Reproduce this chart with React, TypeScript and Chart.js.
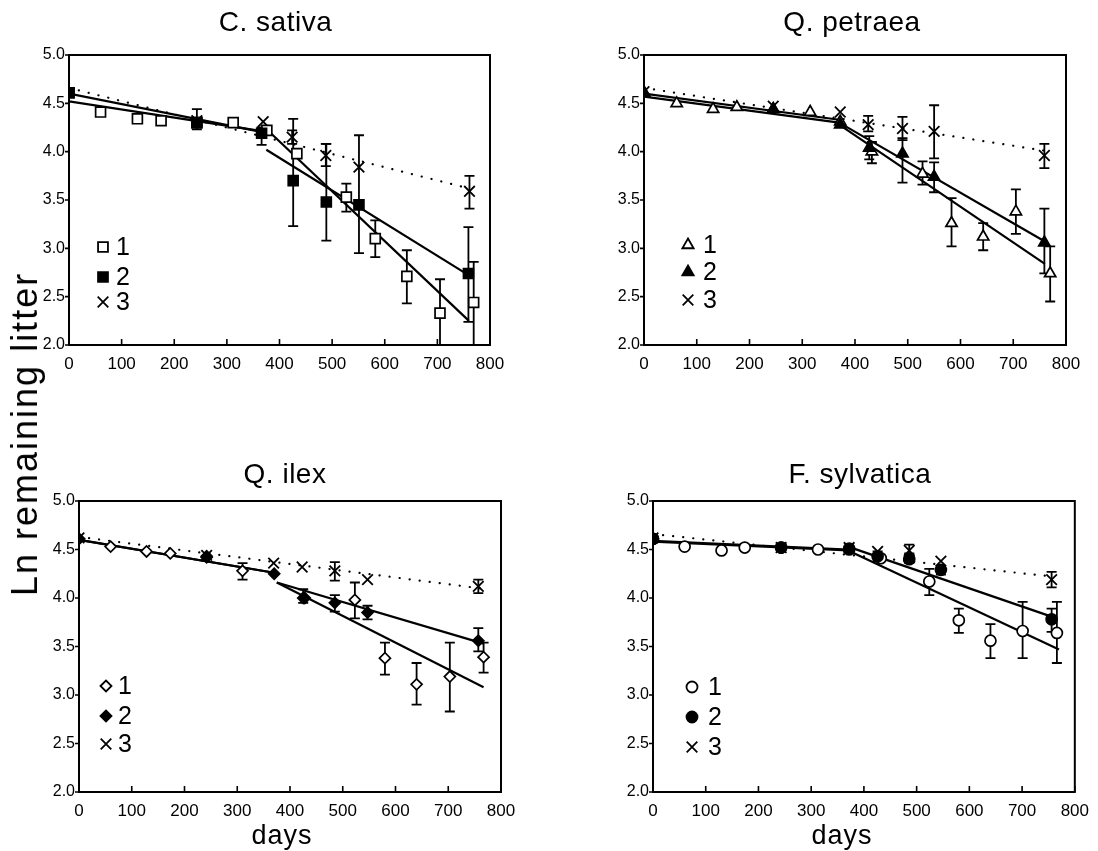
import React, { useEffect, useRef } from 'react';
import { Chart, registerables } from 'chart.js';
import { drawPoint } from 'chart.js/helpers';

Chart.register(...registerables);

const FONT = "'Liberation Sans', Arial, sans-serif";

// ---------- axis ticks ----------
const xTickStep = 100;
const yTickStep = 0.5;
const xRange = [0, 800];
const yRange = [2, 5];
const legendLabels = ['1', '2', '3'];

// ---------- C. sativa ----------
const sativaDays1 = [0, 60, 130, 175, 243, 312, 376, 433, 527, 582, 642, 705, 769];
const sativaVals1 = [4.61, 4.41, 4.34, 4.32, 4.30, 4.30, 4.22, 3.98, 3.53, 3.10, 2.71, 2.33, 2.44];
const sativaUp1 = [0, 0, 0, 0, 0, 0, 0, 0, 0.14, 0.19, 0.27, 0.35, 0.42];
const sativaDown1 = [0, 0, 0, 0, 0, 0, 0, 0, 0.15, 0.19, 0.28, 0.36, 0.5];
const sativaDays2 = [0, 243, 366, 426, 489, 551, 759];
const sativaVals2 = [4.61, 4.30, 4.19, 3.70, 3.48, 3.45, 2.74];
const sativaUp2 = [0, 0.14, 0.06, 0.64, 0.60, 0.72, 0.48];
const sativaDown2 = [0, 0.07, 0.12, 0.47, 0.40, 0.50, 0.50];
const sativaDays3 = [0, 243, 369, 424, 488, 551, 761];
const sativaVals3 = [4.61, 4.32, 4.31, 4.15, 3.96, 3.84, 3.59];
const sativaUp3 = [0, 0, 0, 0.07, 0.12, 0, 0.16];
const sativaDown3 = [0, 0, 0, 0.07, 0.11, 0, 0.18];
const sativaFitA1Days = [0, 370];
const sativaFitA1 = [4.52, 4.21];
const sativaFitA2Days = [0, 370];
const sativaFitA2 = [4.60, 4.20];
const sativaFitB1Days = [370, 760];
const sativaFitB1 = [4.26, 2.25];
const sativaFitB2Days = [375, 760];
const sativaFitB2 = [4.02, 2.72];
const sativaFit3Days = [0, 760];
const sativaFit3 = [4.66, 3.62];

// ---------- Q. petraea ----------
const petraeaDays1 = [0, 62, 131, 176, 245, 315, 372, 432, 528, 583, 643, 705, 770];
const petraeaVals1 = [4.61, 4.50, 4.44, 4.46, 4.44, 4.41, 4.31, 4.00, 3.77, 3.26, 3.12, 3.38, 2.74];
const petraeaUp1 = [0, 0, 0, 0, 0, 0, 0, 0.10, 0.13, 0.26, 0.14, 0.23, 0.28];
const petraeaDown1 = [0, 0, 0, 0, 0, 0, 0, 0.12, 0.11, 0.24, 0.14, 0.23, 0.29];
const petraeaDays2 = [0, 245, 372, 427, 490, 550, 759];
const petraeaVals2 = [4.61, 4.44, 4.28, 4.04, 3.98, 3.74, 3.06];
const petraeaUp2 = [0, 0, 0, 0.12, 0.16, 0.15, 0.35];
const petraeaDown2 = [0, 0, 0, 0.12, 0.30, 0.16, 0.32];
const petraeaDays3 = [0, 245, 372, 425, 490, 550, 759];
const petraeaVals3 = [4.62, 4.47, 4.41, 4.28, 4.24, 4.21, 3.96];
const petraeaUp3 = [0, 0, 0, 0.09, 0.12, 0.27, 0.12];
const petraeaDown3 = [0, 0, 0, 0.07, 0.12, 0.28, 0.13];
const petraeaFitA1Days = [0, 370];
const petraeaFitA1 = [4.57, 4.30];
const petraeaFitA2Days = [0, 370];
const petraeaFitA2 = [4.60, 4.33];
const petraeaFitB1Days = [370, 760];
const petraeaFitB1 = [4.28, 2.84];
const petraeaFitB2Days = [370, 760];
const petraeaFitB2 = [4.30, 3.07];
const petraeaFit3Days = [0, 760];
const petraeaFit3 = [4.66, 4.01];

// ---------- Q. ilex ----------
const ilexDays1 = [0, 60, 128, 173, 242, 310, 428, 523, 580, 640, 703, 767];
const ilexVals1 = [4.61, 4.53, 4.48, 4.46, 4.43, 4.28, 4.00, 3.98, 3.38, 3.11, 3.19, 3.39];
const ilexUp1 = [0, 0, 0, 0, 0, 0.08, 0, 0.18, 0.16, 0.22, 0.35, 0.15];
const ilexDown1 = [0, 0, 0, 0, 0, 0.09, 0, 0.19, 0.17, 0.21, 0.36, 0.16];
const ilexDays2 = [0, 242, 370, 425, 485, 547, 757];
const ilexVals2 = [4.61, 4.42, 4.25, 4.00, 3.95, 3.85, 3.56];
const ilexUp2 = [0, 0, 0, 0.09, 0.08, 0.07, 0.13];
const ilexDown2 = [0, 0, 0, 0.05, 0.09, 0.07, 0.11];
const ilexDays3 = [0, 242, 369, 423, 485, 547, 757];
const ilexVals3 = [4.62, 4.44, 4.36, 4.32, 4.28, 4.19, 4.12];
const ilexUp3 = [0, 0, 0, 0, 0.09, 0, 0.07];
const ilexDown3 = [0, 0, 0, 0, 0.10, 0, 0.07];
const ilexFitA1Days = [0, 370];
const ilexFitA1 = [4.60, 4.26];
const ilexFitA2Days = [0, 370];
const ilexFitA2 = [4.60, 4.26];
const ilexFitB1Days = [375, 767];
const ilexFitB1 = [4.16, 3.08];
const ilexFitB2Days = [375, 767];
const ilexFitB2 = [4.16, 3.53];
const ilexFit3Days = [0, 760];
const ilexFit3 = [4.63, 4.10];

// ---------- F. sylvatica ----------
const sylvDays1 = [0, 60, 130, 174, 243, 313, 372, 432, 524, 580, 640, 701, 766];
const sylvVals1 = [4.61, 4.53, 4.49, 4.52, 4.52, 4.50, 4.50, 4.41, 4.17, 3.77, 3.56, 3.66, 3.64];
const sylvUp1 = [0, 0, 0, 0, 0, 0, 0, 0, 0.13, 0.12, 0.17, 0.30, 0.32];
const sylvDown1 = [0, 0, 0, 0, 0, 0, 0, 0, 0.14, 0.13, 0.18, 0.28, 0.31];
const sylvDays2 = [0, 243, 372, 426, 486, 546, 756];
const sylvVals2 = [4.61, 4.52, 4.51, 4.43, 4.40, 4.29, 3.78];
const sylvUp2 = [0, 0, 0, 0.05, 0.06, 0.04, 0.11];
const sylvDown2 = [0, 0, 0, 0.05, 0.04, 0.05, 0.13];
const sylvDays3 = [0, 243, 372, 426, 486, 546, 756];
const sylvVals3 = [4.62, 4.52, 4.52, 4.48, 4.49, 4.38, 4.19];
const sylvUp3 = [0, 0, 0, 0, 0.06, 0, 0.08];
const sylvDown3 = [0, 0, 0, 0, 0.04, 0, 0.08];
const sylvFitA1Days = [0, 370];
const sylvFitA1 = [4.58, 4.49];
const sylvFitA2Days = [0, 370];
const sylvFitA2 = [4.59, 4.50];
const sylvFitB1Days = [370, 770];
const sylvFitB1 = [4.49, 3.47];
const sylvFitB2Days = [370, 760];
const sylvFitB2 = [4.53, 3.80];
const sylvFit3Days = [0, 760];
const sylvFit3 = [4.66, 4.22];

// ---------- helpers ----------
const pts = (days: number[], vals: number[]) => days.map((d, i) => ({ x: d, y: vals[i] }));
const CROSS_R = 7.5;

function pointSet(days: number[], vals: number[], up: number[], down: number[], style: string, radius: number, filled: boolean, order: number) {
  const cross = style === 'crossRot';
  return {
    type: 'scatter',
    data: pts(days, vals),
    showLine: false,
    pointStyle: style,
    pointRadius: radius,
    pointBorderWidth: cross ? 1.8 : 1.7,
    pointBackgroundColor: filled ? '#000' : '#fff',
    pointBorderColor: '#000',
    backgroundColor: filled ? '#000' : '#fff',
    borderColor: '#000',
    order,
    errUp: up,
    errDown: down,
  } as any;
}

function fitLine(days: number[], vals: number[], dotted: boolean) {
  return {
    type: 'scatter',
    data: pts(days, vals),
    showLine: true,
    pointRadius: 0,
    borderColor: '#000',
    borderWidth: 2.2,
    borderDash: dotted ? [0.1, 10] : [],
    borderCapStyle: dotted ? 'round' : 'butt',
    order: 10,
  } as any;
}

const decorPlugin = {
  id: 'panelDecor',
  beforeDatasetsDraw(chart: any) {
    const ctx = chart.ctx;
    const a = chart.chartArea;
    const xs = chart.scales.x;
    const ys = chart.scales.y;
    ctx.save();
    ctx.beginPath();
    ctx.rect(a.left, a.top, a.right - a.left, a.bottom - a.top);
    ctx.clip();
    ctx.strokeStyle = '#000';
    ctx.lineWidth = 1.8;
    chart.data.datasets.forEach((ds: any) => {
      if (!ds.errUp) return;
      ds.data.forEach((p: any, i: number) => {
        const u = ds.errUp[i] || 0;
        const d = ds.errDown[i] || 0;
        if (!u && !d) return;
        const px = xs.getPixelForValue(p.x);
        const y1 = ys.getPixelForValue(p.y + u);
        const y2 = ys.getPixelForValue(p.y - d);
        ctx.beginPath();
        ctx.moveTo(px, y1);
        ctx.lineTo(px, y2);
        ctx.moveTo(px - 5, y1);
        ctx.lineTo(px + 5, y1);
        ctx.moveTo(px - 5, y2);
        ctx.lineTo(px + 5, y2);
        ctx.stroke();
      });
    });
    ctx.restore();
  },
  afterDraw(chart: any, _args: any, opts: any) {
    const ctx = chart.ctx;
    const a = chart.chartArea;
    const xs = chart.scales.x;
    const ys = chart.scales.y;
    ctx.save();
    ctx.strokeStyle = '#000';
    ctx.lineWidth = 2;
    ctx.strokeRect(a.left, a.top, a.right - a.left, a.bottom - a.top);
    ctx.lineWidth = 1.6;
    ctx.beginPath();
    xs.ticks.forEach((t: any) => {
      const px = xs.getPixelForValue(t.value);
      ctx.moveTo(px, a.bottom);
      ctx.lineTo(px, a.bottom - 6);
    });
    ys.ticks.forEach((t: any) => {
      const py = ys.getPixelForValue(t.value);
      ctx.moveTo(a.left, py);
      ctx.lineTo(a.left - 4, py);
    });
    ctx.stroke();

    // title
    ctx.fillStyle = '#000';
    ctx.font = `28px ${FONT}`;
    (ctx as any).letterSpacing = '0.5px';
    ctx.textAlign = 'center';
    ctx.textBaseline = 'alphabetic';
    ctx.fillText(opts.title, (a.left + a.right) / 2 + opts.titleDx, a.top - opts.titleGap);
    (ctx as any).letterSpacing = '0px';

    // legend
    const lg = opts.legend;
    ctx.font = `25px ${FONT}`;
    ctx.textBaseline = 'middle';
    ctx.textAlign = 'center';
    opts.styles.forEach((st: any, i: number) => {
      const x = a.left + lg.x;
      const y = a.top + lg.ys[i];
      ctx.fillStyle = st.filled ? '#000' : '#fff';
      ctx.strokeStyle = '#000';
      ctx.lineWidth = 1.8;
      drawPoint(ctx, { pointStyle: st.style, radius: st.radius, borderWidth: 1.8, rotation: 0 } as any, x, y);
      ctx.fillStyle = '#000';
      ctx.fillText(legendLabels[i], x + lg.textDx, y + 1);
    });
    ctx.restore();
  },
};

type PanelCfg = {
  title: string;
  box: { x: number; y: number; w: number; h: number };
  area: { L: number; R: number; T: number; B: number };
  titleGap: number;
  titleDx: number;
  legend: { x: number; ys: number[]; textDx: number };
  styles: { style: string; radius: number; filled: boolean }[];
  datasets: any[];
};

function makeStyles(shape: string, r: number) {
  return [
    { style: shape, radius: r, filled: false },
    { style: shape, radius: r, filled: true },
    { style: 'crossRot', radius: CROSS_R, filled: false },
  ];
}

function buildDatasets(
  shape: string, r: number,
  d1: number[], v1: number[], u1: number[], w1: number[],
  d2: number[], v2: number[], u2: number[], w2: number[],
  d3: number[], v3: number[], u3: number[], w3: number[],
  fits: [number[], number[], boolean][]
) {
  return [
    ...fits.map(([d, v, dot]) => fitLine(d, v, dot)),
    pointSet(d3, v3, u3, w3, 'crossRot', CROSS_R, false, 3),
    pointSet(d1, v1, u1, w1, shape, r, false, 2),
    pointSet(d2, v2, u2, w2, shape, r, true, 1),
  ];
}

const panels: PanelCfg[] = [
  {
    title: 'C. sativa',
    box: { x: 0, y: 0, w: 549, h: 425 },
    area: { L: 69, R: 490, T: 55, B: 345 },
    titleGap: 24,
    titleDx: -4,
    legend: { x: 34, ys: [192, 222, 247], textDx: 20 },
    styles: makeStyles('rect', 7),
    datasets: buildDatasets('rect', 7,
      sativaDays1, sativaVals1, sativaUp1, sativaDown1,
      sativaDays2, sativaVals2, sativaUp2, sativaDown2,
      sativaDays3, sativaVals3, sativaUp3, sativaDown3,
      [[sativaFitA1Days, sativaFitA1, false], [sativaFitA2Days, sativaFitA2, false],
       [sativaFitB1Days, sativaFitB1, false], [sativaFitB2Days, sativaFitB2, false],
       [sativaFit3Days, sativaFit3, true]]),
  },
  {
    title: 'Q. petraea',
    box: { x: 549, y: 0, w: 549, h: 425 },
    area: { L: 644, R: 1066, T: 55, B: 345 },
    titleGap: 24,
    titleDx: -3,
    legend: { x: 44, ys: [190, 217, 245], textDx: 22 },
    styles: makeStyles('triangle', 6.5),
    datasets: buildDatasets('triangle', 6.5,
      petraeaDays1, petraeaVals1, petraeaUp1, petraeaDown1,
      petraeaDays2, petraeaVals2, petraeaUp2, petraeaDown2,
      petraeaDays3, petraeaVals3, petraeaUp3, petraeaDown3,
      [[petraeaFitA1Days, petraeaFitA1, false], [petraeaFitA2Days, petraeaFitA2, false],
       [petraeaFitB1Days, petraeaFitB1, false], [petraeaFitB2Days, petraeaFitB2, false],
       [petraeaFit3Days, petraeaFit3, true]]),
  },
  {
    title: 'Q. ilex',
    box: { x: 0, y: 425, w: 549, h: 426 },
    area: { L: 79, R: 501, T: 501, B: 792 },
    titleGap: 18,
    titleDx: -5,
    legend: { x: 27, ys: [185, 215, 243], textDx: 19 },
    styles: makeStyles('rectRot', 5.5),
    datasets: buildDatasets('rectRot', 5.5,
      ilexDays1, ilexVals1, ilexUp1, ilexDown1,
      ilexDays2, ilexVals2, ilexUp2, ilexDown2,
      ilexDays3, ilexVals3, ilexUp3, ilexDown3,
      [[ilexFitA1Days, ilexFitA1, false], [ilexFitA2Days, ilexFitA2, false],
       [ilexFitB1Days, ilexFitB1, false], [ilexFitB2Days, ilexFitB2, false],
       [ilexFit3Days, ilexFit3, true]]),
  },
  {
    title: 'F. sylvatica',
    box: { x: 549, y: 425, w: 549, h: 426 },
    area: { L: 653, R: 1076, T: 501, B: 792 },
    titleGap: 18,
    titleDx: -4,
    legend: { x: 39, ys: [186, 216, 246], textDx: 23 },
    styles: makeStyles('circle', 5.5),
    datasets: buildDatasets('circle', 5.5,
      sylvDays1, sylvVals1, sylvUp1, sylvDown1,
      sylvDays2, sylvVals2, sylvUp2, sylvDown2,
      sylvDays3, sylvVals3, sylvUp3, sylvDown3,
      [[sylvFitA1Days, sylvFitA1, false], [sylvFitA2Days, sylvFitA2, false],
       [sylvFitB1Days, sylvFitB1, false], [sylvFitB2Days, sylvFitB2, false],
       [sylvFit3Days, sylvFit3, true]]),
  },
];

const X_AXIS_H = 40;

function Panel({ cfg }: { cfg: PanelCfg }) {
  const ref = useRef<HTMLCanvasElement | null>(null);
  useEffect(() => {
    if (!ref.current) return;
    const { box, area } = cfg;
    const yW = area.L - box.x;
    const chart = new Chart(ref.current, {
      type: 'scatter',
      data: { datasets: cfg.datasets },
      plugins: [decorPlugin],
      options: {
        animation: false,
        responsive: false,
        maintainAspectRatio: false,
        layout: {
          padding: {
            left: 0,
            top: area.T - box.y,
            right: box.x + box.w - area.R,
            bottom: box.y + box.h - area.B - X_AXIS_H,
          },
        },
        plugins: {
          legend: { display: false },
          tooltip: { enabled: false },
          title: { display: false },
          panelDecor: {
            title: cfg.title,
            titleGap: cfg.titleGap,
            titleDx: cfg.titleDx,
            legend: cfg.legend,
            styles: cfg.styles,
          },
        } as any,
        scales: {
          x: {
            type: 'linear',
            min: xRange[0],
            max: xRange[1],
            afterFit: (s: any) => { s.height = X_AXIS_H; },
            grid: { display: false, drawTicks: false },
            border: { display: false },
            ticks: {
              stepSize: xTickStep,
              padding: 9,
              color: '#000',
              maxRotation: 0,
              autoSkip: false,
              font: { family: FONT, size: 17 },
            },
          },
          y: {
            type: 'linear',
            min: yRange[0],
            max: yRange[1],
            afterFit: (s: any) => { s.width = yW; },
            grid: { display: false, drawTicks: false },
            border: { display: false },
            ticks: {
              stepSize: yTickStep,
              padding: 4,
              color: '#000',
              autoSkip: false,
              font: { family: FONT, size: 16 },
              callback: (v: any) => Number(v).toFixed(1),
            },
          },
        },
      } as any,
    });
    return () => chart.destroy();
  }, [cfg]);
  return (
    <canvas
      ref={ref}
      width={cfg.box.w}
      height={cfg.box.h}
      style={{ position: 'absolute', left: cfg.box.x, top: cfg.box.y, width: cfg.box.w, height: cfg.box.h }}
    />
  );
}

const textBase: React.CSSProperties = {
  position: 'absolute',
  fontFamily: FONT,
  whiteSpace: 'nowrap',
  color: '#000',
  lineHeight: 1,
};

export default function App() {
  return (
    <div style={{ position: 'absolute', left: 0, top: 0, width: 1098, height: 851, background: '#fff', overflow: 'hidden' }}>
      {panels.map((p) => (
        <Panel key={p.title} cfg={p} />
      ))}
      <div
        style={{
          ...textBase,
          left: 25,
          top: 434,
          transform: 'translate(-50%, -50%) rotate(-90deg)',
          fontSize: 36,
          letterSpacing: '2px',
        }}
      >
        Ln remaining litter
      </div>
      <div style={{ ...textBase, left: 282, top: 835, transform: 'translate(-50%, -50%)', fontSize: 27, letterSpacing: '1px' }}>
        days
      </div>
      <div style={{ ...textBase, left: 842, top: 835, transform: 'translate(-50%, -50%)', fontSize: 27, letterSpacing: '1px' }}>
        days
      </div>
    </div>
  );
}
